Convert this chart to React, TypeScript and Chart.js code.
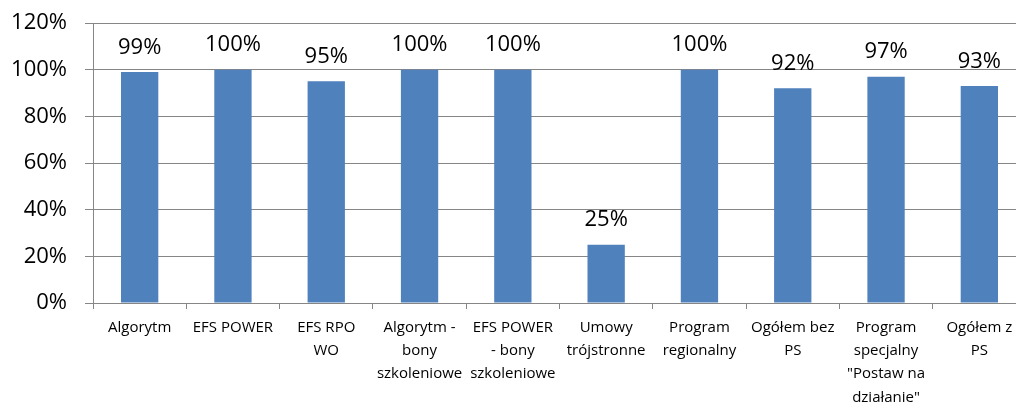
import React, { useEffect, useRef } from "react";
import { Chart, registerables } from "chart.js";

Chart.register(...registerables);

const categories: (string | string[])[] = [
  "Algorytm",
  "EFS POWER",
  ["EFS RPO", "WO"],
  ["Algorytm -", "bony", "szkoleniowe"],
  ["EFS POWER", "- bony", "szkoleniowe"],
  ["Umowy", "trójstronne"],
  ["Program", "regionalny"],
  ["Ogółem bez", "PS"],
  ["Program", "specjalny", "\"Postaw na", "działanie\""],
  ["Ogółem z", "PS"],
];

const values = [99, 100, 95, 100, 100, 25, 100, 92, 97, 93];

const yMin = 0;
const yMax = 120;
const yStep = 20;

const FONT = "'Open Sans', 'DejaVu Sans', sans-serif";
const AXIS_GRAY = "#868686";
const BAR_BLUE = "#4F81BD";

const valueLabelPlugin = {
  id: "valueLabels",
  afterDatasetsDraw(chart: any) {
    const ctx = chart.ctx;
    const meta = chart.getDatasetMeta(0);
    ctx.save();
    ctx.font = `22px ${FONT}`;
    ctx.fillStyle = "#000";
    ctx.textAlign = "center";
    ctx.textBaseline = "alphabetic";
    meta.data.forEach((bar: any, i: number) => {
      ctx.fillText(values[i] + "%", bar.x, bar.y - 18.5);
    });
    ctx.restore();
  },
};

export default function App() {
  const ref = useRef<HTMLCanvasElement | null>(null);

  useEffect(() => {
    if (!ref.current) return;
    const chart = new Chart(ref.current, {
      type: "bar",
      data: {
        labels: categories,
        datasets: [
          {
            data: values,
            backgroundColor: BAR_BLUE,
            borderWidth: 0,
            barPercentage: 0.4,
            categoryPercentage: 1,
          },
        ],
      },
      options: {
        responsive: false,
        animation: false,
        devicePixelRatio: 1,
        layout: { padding: { top: 23, left: 0, right: 0, bottom: 0 } },
        plugins: {
          legend: { display: false },
          tooltip: { enabled: false },
        },
        scales: {
          x: {
            offset: true,
            grid: {
              display: true,
              drawOnChartArea: false,
              drawTicks: true,
              tickLength: 6,
              color: AXIS_GRAY,
              offset: true,
            },
            border: { display: true, color: AXIS_GRAY, width: 1 },
            ticks: {
              color: "#000",
              font: { family: FONT, size: 15, lineHeight: 1.55 },
              padding: 7,
              maxRotation: 0,
              autoSkip: false,
            },
            afterFit(scale: any) {
              scale.height = 100;
              scale.paddingLeft = 0;
              scale.paddingRight = 0;
            },
          },
          y: {
            min: yMin,
            max: yMax,
            grid: {
              display: true,
              drawOnChartArea: true,
              drawTicks: true,
              tickLength: 8,
              color: AXIS_GRAY,
            },
            border: { display: true, color: AXIS_GRAY, width: 1 },
            ticks: {
              stepSize: yStep,
              color: "#000",
              font: { family: FONT, size: 22 },
              padding: 18,
              callback: (v: any) => v + "%",
            },
            afterFit(scale: any) {
              scale.width = 93;
              scale.paddingTop = 0;
              scale.paddingBottom = 0;
            },
          },
        },
      },
      plugins: [valueLabelPlugin],
    });
    return () => chart.destroy();
  }, []);

  return (
    <div
      style={{
        position: "fixed",
        left: 0,
        top: 0,
        width: 1016,
        height: 403,
        overflow: "hidden",
        background: "#fff",
      }}
    >
      <canvas
        ref={ref}
        width={1026}
        height={403}
        style={{ width: 1026, height: 403, display: "block" }}
      />
    </div>
  );
}
